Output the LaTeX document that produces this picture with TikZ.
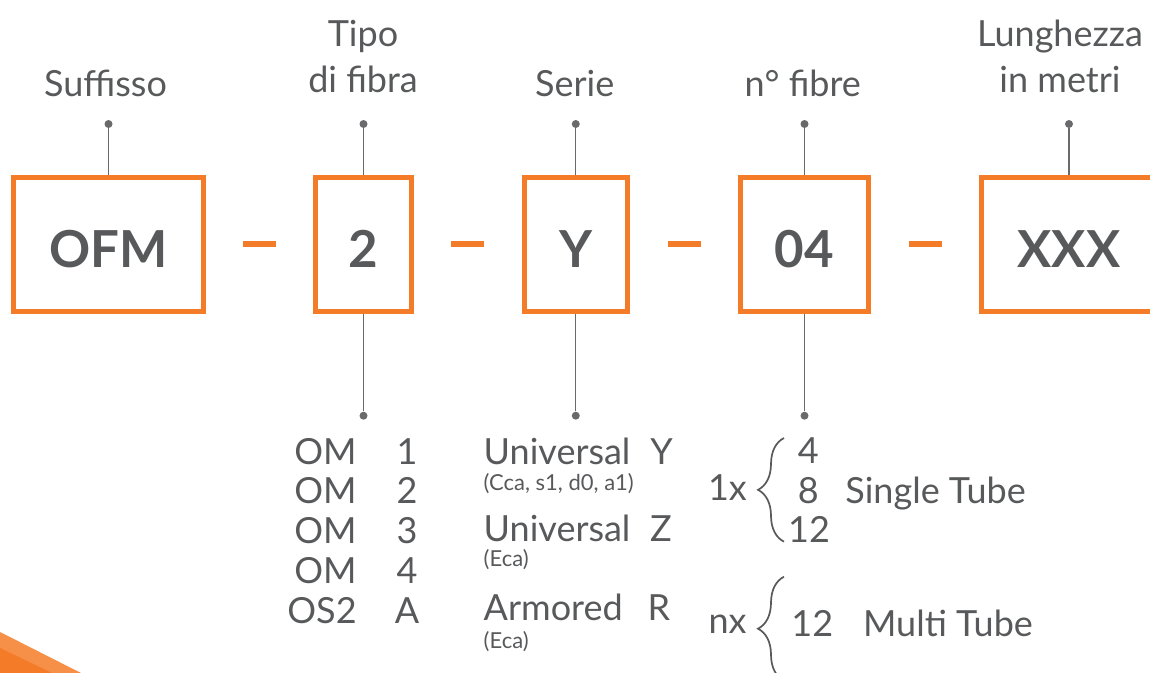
\documentclass[tikz,border=0pt]{standalone}
\usepackage{fontspec}
\setmainfont{Lato}
\usetikzlibrary{decorations.pathreplacing}
\definecolor{ofmorange}{HTML}{F47B27}
\definecolor{ofmgray}{HTML}{58595B}
\definecolor{ofmline}{HTML}{6A6A6C}
\begin{document}
\begin{tikzpicture}[x=0.5pt,y=-0.5pt,
    codebox/.style={draw=ofmorange,line width=2.5pt,minimum height=67pt,inner sep=0pt,
      text height=23.5pt,text depth=0pt,text=ofmgray,font=\fontsize{25.5}{30}\selectfont\bfseries},
    hyphen/.style={fill=ofmorange,minimum width=16.5pt,minimum height=2.8pt,inner sep=0pt},
    toplbl/.style={anchor=base,align=center,inner sep=0pt,text=ofmgray,font=\fontsize{18}{23}\selectfont},
    listtxt/.style={anchor=base,inner sep=0pt,text=ofmgray,font=\fontsize{18}{23}\selectfont},
    smalltxt/.style={anchor=base west,inner sep=0pt,text=ofmgray,font=\fontsize{11}{13}\selectfont},
    dot/.style={circle,fill=ofmline,minimum size=4pt,inner sep=0pt},
    curly/.style={draw=ofmgray,line width=0.85pt,decorate,decoration={brace,amplitude=13pt}}]
  \clip (0,0) rectangle (1150,673);
  % corner
  \fill[ofmorange!85!white] (0,632) -- (81,673) -- (0,673) -- cycle;
  \fill[ofmorange] (0,648) -- (52,673) -- (0,673) -- cycle;

  % code boxes
  \node[codebox,minimum width=95pt] (ofm) at (108.5,244.5) {OFM};
  \node[codebox,minimum width=48pt] (fibra) at (363.5,244.5) {2};
  \node[codebox,minimum width=51.75pt] (serie) at (575.75,244.5) {Y};
  \node[codebox,minimum width=64pt] (nfibre) at (804.5,244.5) {04};
  \node[codebox,minimum width=87.5pt] (lung) at (1069,244.5) {XXX};
  \node[hyphen] (h1) at (259.5,244.3) {};
  \node[hyphen] (h2) at (467.75,244.3) {};
  \node[hyphen] (h3) at (684,244.3) {};
  \node[hyphen] (h4) at (925,244.3) {};

  % top labels
  \node[toplbl] (tsuff) at (105.5,97) {Suffisso};
  \node[toplbl] (ttipo) at (363,92.5) {Tipo\\di fibra};
  \node[toplbl] (tserie) at (574.7,97) {Serie};
  \node[toplbl] (tnfib) at (802.7,97) {n° fibre};
  \node[toplbl] (tlung) at (1060,92.5) {Lunghezza\\in metri};

  % dots
  \node[dot] (d1) at (108.5,124) {};
  \node[dot] (d2) at (363.5,124) {};
  \node[dot] (d3) at (575.75,124) {};
  \node[dot] (d4) at (804.5,124) {};
  \node[dot] (d5) at (1069,124) {};
  \node[dot] (e2) at (363.5,415.7) {};
  \node[dot] (e3) at (575.75,415.7) {};
  \node[dot] (e4) at (804.5,415.7) {};
  \begin{scope}[ofmline,line width=0.65pt]
    \draw (d1) -- (ofm);
    \draw (d2) -- (fibra);
    \draw (d3) -- (serie);
    \draw (d4) -- (nfibre);
    \draw (d5) -- (lung);
    \draw (fibra) -- (e2);
    \draw (serie) -- (e3);
    \draw (nfibre) -- (e4);
  \end{scope}

  % tipo di fibra
  \foreach \y/\a/\b [count=\i] in {464/OM/1,503.3/OM/2,543.3/OM/3,583.3/OM/4,623.3/OS2/A}{
    \node[listtxt,anchor=base east] (om\i) at (357,\y) {\a};
    \node[listtxt] (omv\i) at (407,\y) {\b};
  }

  % serie
  \node[listtxt,anchor=base west] (uy) at (483.3,464) {Universal};
  \node[listtxt] (uyv) at (661.7,464) {Y};
  \node[smalltxt] (uyn) at (483.3,490.7) {(Cca, s1, d0, a1)};
  \node[listtxt,anchor=base west] (uz) at (483.3,541.7) {Universal};
  \node[listtxt] (uzv) at (661,541.7) {Z};
  \node[smalltxt] (uzn) at (483.3,566.7) {(Eca)};
  \node[listtxt,anchor=base west] (ar) at (483.3,620) {Armored};
  \node[listtxt] (arv) at (659,620) {R};
  \node[smalltxt] (arn) at (483.3,648.3) {(Eca)};

  % numero fibre
  \node[listtxt] (x1) at (727.5,500) {1x};
  \draw[curly] (784,541.7) -- (784,438);
  \node[listtxt] (f4) at (808.3,463.3) {4};
  \node[listtxt] (f8) at (808.3,503.3) {8};
  \node[listtxt] (f12) at (809,542.7) {12};
  \node[listtxt,anchor=base west] (st) at (845,503.3) {Single Tube};
  \node[listtxt] (xn) at (727.5,633.3) {nx};
  \draw[curly] (784,680.7) -- (784,576.7);
  \node[listtxt,anchor=base west] (f12n) at (791,636.7) {12};
  \node[listtxt,anchor=base west] (mt) at (862.7,636.7) {Multi Tube};
\end{tikzpicture}
\end{document}
